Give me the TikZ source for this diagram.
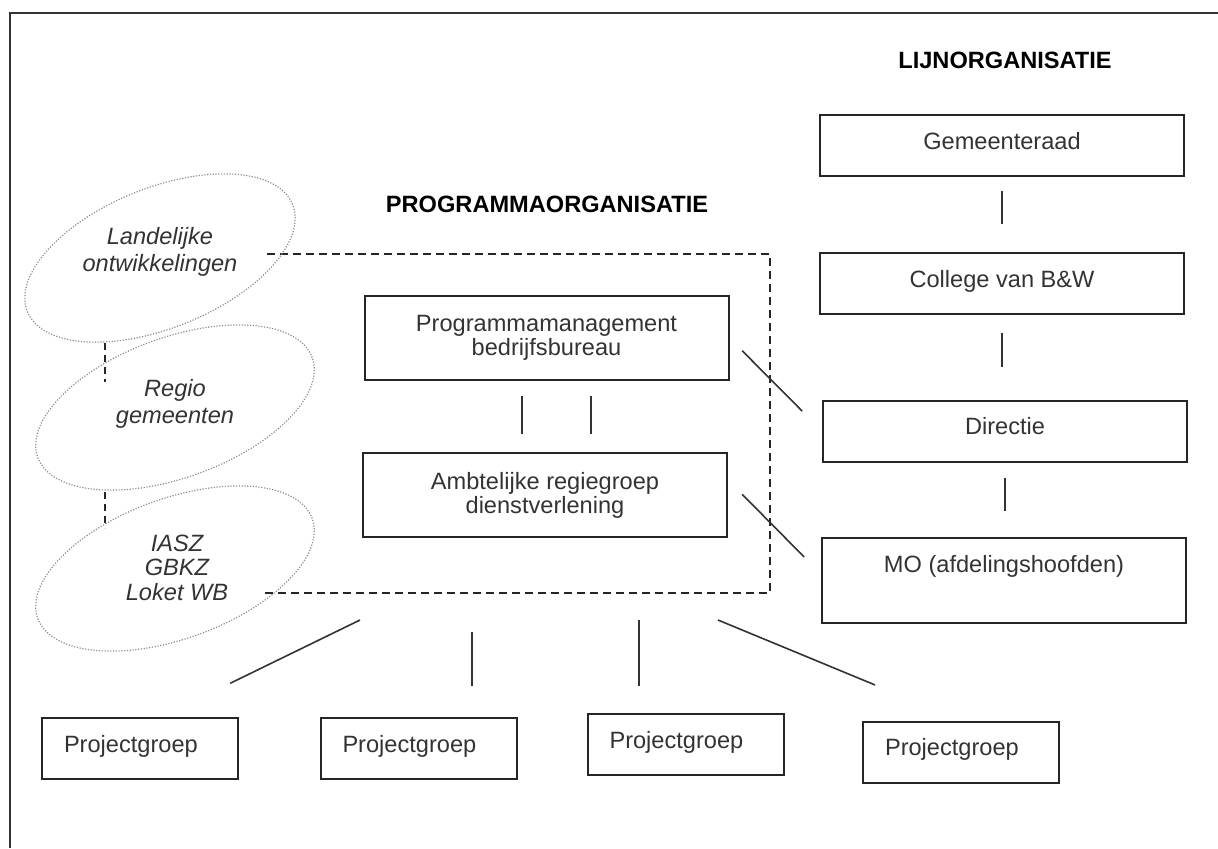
\documentclass[tikz,border=0pt]{standalone}
\usepackage{fontspec}
\setmainfont{Liberation Sans}
\usetikzlibrary{calc,shapes.geometric}

\begin{document}
\begin{tikzpicture}[x=0.5pt, y=-0.5pt,
  every node/.style={font=\fontsize{11.8}{12}\selectfont, text=black!80},
  box/.style={draw=black!85, line width=1pt, minimum width=182pt, inner ysep=0pt,
    text height=17pt, text depth=13.5pt},
  box2/.style={draw=black!85, line width=1pt, minimum width=182pt, minimum height=42pt,
    align=center},
  pgbox/.style={box, minimum width=98pt, text width=76pt, inner xsep=11pt, align=left},
  oval/.style={ellipse, draw=black!45, line width=0.6pt, dash pattern=on 0.6pt off 0.8pt,
    minimum width=146pt, minimum height=70pt, inner sep=0pt},
  otext/.style={align=center, font=\fontsize{11.8}{13.5}\selectfont\itshape},
  head/.style={font=\fontsize{11.8}{12}\selectfont\bfseries, text=black},
  e/.style={line width=0.8pt, draw=black!80},
  dline/.style={line width=0.75pt, draw=black!85, dash pattern=on 4pt off 2.5pt}
]
\useasboundingbox (0,0) rectangle (1218,848);

% --- outer frame (top and left side only) ---
\draw[line width=0.8pt, black!80] (1218,13) -| (10,848);

% --- headings ---
\node[head] (lijn) at (1005,60) {LIJNORGANISATIE};
\node[head] (prog) at (547,204) {PROGRAMMAORGANISATIE};

% --- line organisation ---
\node[box] (gr)  at (1002,145.5) {Gemeenteraad};
\node[box] (cbw) at (1002,283.5) {College van B\&W};
\node[box] (dir) at (1005,431)   {Directie};
\node[box, text depth=25.5pt] (mo) at (1004,580.5) {MO (afdelingshoofden)};

% --- programme organisation ---
\node[box2] (pm) at (546.5,338) {Programmamanagement\\bedrijfsbureau};
\node[box2] (ab) at (545,495)   {Ambtelijke regiegroep\\dienstverlening};

% dashed border, open on the left
\coordinate (dbtl) at (267,254);
\coordinate (dbtr) at (770,254);
\coordinate (dbbr) at (770,593);
\coordinate (dbbl) at (265,593);
\draw[dline] (dbtl) -- (dbtr) -- (dbbr) -- (dbbl);

% --- tilted ovals on the left ---
\node[oval, rotate=22, minimum width=143pt] (lo) at (160,258) {};
\node[oval, rotate=20] (ro) at (175,407.5) {};
\node[oval, rotate=20] (io) at (175,568.5) {};
\node[otext] (lot) at (160,251.5) {Landelijke\\ontwikkelingen};
\node[otext] (rot) at (175,403.5) {Regio\\gemeenten};
\node[otext, font=\fontsize{11.8}{12.3}\selectfont\itshape] (iot) at (177,567.5) {IASZ\\GBKZ\\Loket WB};

\coordinate (t1a) at (105,343);
\coordinate (t1b) at (105,382);
\coordinate (t2a) at (105,492);
\coordinate (t2b) at (105,528);
\draw[line width=0.75pt, black!85, dash pattern=on 3.5pt off 2.5pt] (t1a) -- (t1b);
\draw[line width=0.75pt, black!85, dash pattern=on 3.5pt off 2.5pt] (t2a) -- (t2b);

% --- project groups ---
\node[pgbox] (pg1) at (140,748.5)   {Projectgroep};
\node[pgbox] (pg2) at (418.5,748.5) {Projectgroep};
\node[pgbox] (pg3) at (685.5,744.5) {Projectgroep};
\node[pgbox] (pg4) at (961,752)     {Projectgroep};

% --- links in the line organisation ---
\draw[e, shorten <=7pt, shorten >=14pt] (gr.south) -- (gr.south |- cbw.north);
\draw[e, shorten <=9pt, shorten >=16.5pt] (cbw.south) -- (cbw.south |- dir.north);
\draw[e, shorten <=7.5pt, shorten >=13pt] (dir.south) -- (dir.south |- mo.north);

% --- links in the programme organisation ---
\coordinate (pma) at ($(pm.south)+(-24.5,0)$);
\coordinate (pmb) at ($(pm.south)+(44.5,0)$);
\draw[e, shorten <=7.5pt, shorten >=9pt] (pma) -- (pma |- ab.north);
\draw[e, shorten <=7.5pt, shorten >=9pt] (pmb) -- (pmb |- ab.north);

% --- links between both organisations ---
\draw[e, shorten <=9pt, shorten >=14pt] (pm.east) -- (dir.west);
\draw[e, shorten <=10pt, shorten >=12pt] ($(ab.east)+(0,-15)$) -- ($(mo.west)+(0,-6.5)$);

% --- links to the project groups ---
\coordinate (b1) at (360,620);
\coordinate (b2) at (472,632);
\coordinate (b3) at (639,620);
\coordinate (b4) at (718,620);
\draw[e, shorten >=38.5pt] (b1) -- ([xshift=10.5pt]pg1.north);
\draw[e, shorten >=15.5pt] (b2) -- (b2 |- pg2.north);
\draw[e, shorten >=13.5pt] (b3) -- (b3 |- pg3.north);
\draw[e, shorten >=46.5pt] (b4) -- (pg4.north);

\end{tikzpicture}
\end{document}
